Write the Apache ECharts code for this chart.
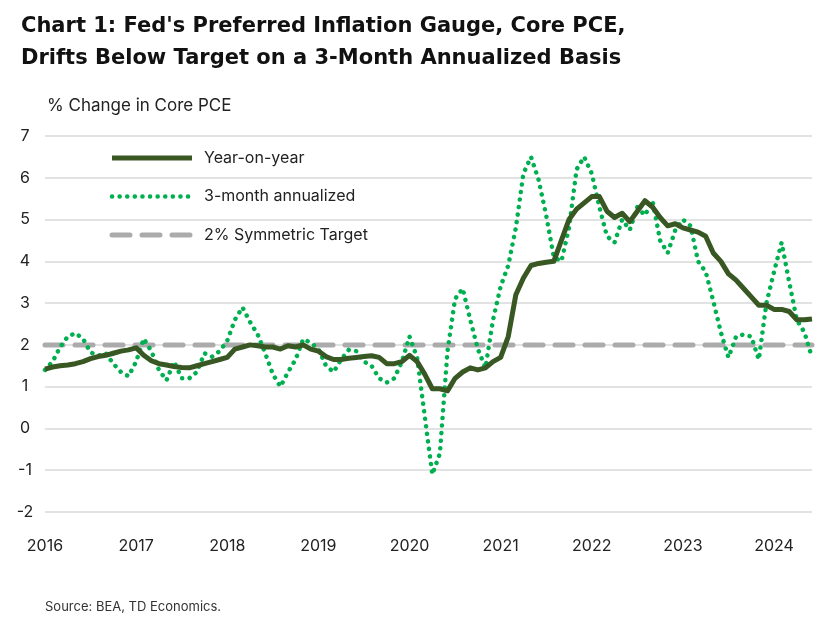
<!DOCTYPE html>
<html><head><meta charset="utf-8">
<script src="https://cdn.jsdelivr.net/npm/echarts@6/dist/echarts.min.js"></script>
<style>html,body{margin:0;padding:0;background:#fff}#c{width:827px;height:617px}</style>
</head><body><div id="c"></div>
<script>
const years = [2016,2017,2018,2019,2020,2021,2022,2023,2024];
const yoy = [1.42,1.47,1.5,1.52,1.55,1.6,1.67,1.72,1.75,1.8,1.85,1.88,
1.93,1.75,1.62,1.55,1.52,1.48,1.46,1.45,1.5,1.55,1.6,1.65,
1.7,1.9,1.95,2.0,1.98,1.95,1.95,1.9,1.98,1.95,2.0,1.9,
1.85,1.72,1.65,1.65,1.68,1.7,1.72,1.74,1.7,1.55,1.55,1.6,
1.75,1.6,1.3,0.95,0.95,0.9,1.2,1.35,1.45,1.4,1.45,1.6,
1.7,2.2,3.2,3.6,3.9,3.95,3.98,4.0,4.5,5.0,5.25,5.4,
5.55,5.55,5.2,5.05,5.15,4.95,5.2,5.45,5.3,5.05,4.85,4.9,
4.8,4.75,4.7,4.6,4.2,4.0,3.7,3.55,3.35,3.15,2.95,2.95,
2.85,2.85,2.8,2.6,2.6,2.62];
const ann3m = [1.4,1.6,1.95,2.2,2.28,2.15,1.82,1.74,1.8,1.55,1.35,1.25,
1.6,2.15,1.85,1.4,1.15,1.6,1.2,1.2,1.35,1.8,1.72,1.85,
2.1,2.6,2.9,2.55,2.25,1.8,1.3,1.0,1.35,1.65,2.14,2.05,
1.9,1.5,1.35,1.65,1.88,1.85,1.6,1.5,1.2,1.1,1.2,1.6,
2.2,1.7,0.3,-1.1,-0.6,1.85,3.1,3.35,2.6,1.9,1.45,2.6,
3.4,3.9,4.8,6.1,6.5,5.95,5.1,4.1,4.0,4.8,6.2,6.5,
6.1,5.3,4.6,4.45,5.0,4.75,5.3,5.1,5.45,4.5,4.2,4.75,
5.0,4.85,4.0,3.75,3.05,2.3,1.7,2.2,2.25,2.2,1.65,3.0,
3.75,4.45,3.5,2.6,2.3,1.7];
const targetValue = 2;
const seriesNames = ['Year-on-year','3-month annualized','2% Symmetric Target'];
const months = yoy.map((_, i) => (years[0] + Math.floor(i/12)) + '-' + String(i%12+1).padStart(2,'0'));
const target = months.map(() => targetValue);

const C_YOY = '#385723', C_3M = '#00b050', C_T = '#ababab';
const chart = echarts.init(document.getElementById('c'));
const F = 'Inter, "Noto Sans", sans-serif';
const legendStyles = [
  {stroke:C_YOY, lineWidth:5},
  {stroke:C_3M, lineWidth:4.5, lineDash:[0.1,7.5], lineCap:'round'},
  {stroke:C_T, lineWidth:5, lineDash:[18,12], lineCap:'round'}
];
const graphics = [];
seriesNames.forEach((n, i) => {
  const y = 158 + i*38.5;
  graphics.push({type:'line', shape:{x1:112, y1:y, x2:192, y2:y}, style:legendStyles[i]});
  graphics.push({type:'text', x:204, y:y, style:{text:n, fontSize:16, fill:'#222', fontFamily:F, textVerticalAlign:'middle'}});
});
chart.setOption({
  animation:false,
  textStyle:{fontFamily:F},
  title:[
    {text:"Chart 1: Fed's Preferred Inflation Gauge, Core PCE,\nDrifts Below Target on a 3-Month Annualized Basis",
     left:16, top:6, textStyle:{fontSize:21, fontWeight:'bold', color:'#111', lineHeight:32, fontFamily:'"DejaVu Sans", sans-serif'}},
    {text:'% Change in Core PCE', left:42, top:92, textStyle:{fontSize:17, fontWeight:'normal', color:'#222', fontFamily:F}},
    {text:'Source: BEA, TD Economics.', left:40, top:596, textStyle:{fontSize:13, fontWeight:'normal', color:'#333', fontFamily:F}}
  ],
  graphic:graphics,
  grid:{left:45, right:15, top:136, bottom:105, containLabel:false},
  xAxis:{type:'category', data:months, boundaryGap:false,
    axisLine:{show:false}, axisTick:{show:false},
    axisLabel:{interval:(i)=>i%12===0, formatter:(v)=>v.slice(0,4), fontSize:16, color:'#222', margin:26},
    splitLine:{show:false}},
  yAxis:{type:'value', min:-2, max:7, interval:1, axisLine:{show:false}, axisTick:{show:false},
    axisLabel:{fontSize:16, color:'#222', margin:20, align:'center'},
    splitLine:{lineStyle:{color:'#d9d9d9', width:1.5}}},
  series:[
    {name:seriesNames[2], type:'line', data:target, symbol:'none', z:1,
     lineStyle:{color:C_T, width:5, type:[18,12], cap:'round'}},
    {name:seriesNames[1], type:'line', data:ann3m, symbol:'none', z:2,
     lineStyle:{color:C_3M, width:4.5, type:[0.1,7.5], cap:'round'}},
    {name:seriesNames[0], type:'line', data:yoy, symbol:'none', z:3,
     lineStyle:{color:C_YOY, width:5, join:'round'}}
  ]
});
</script></body></html>
